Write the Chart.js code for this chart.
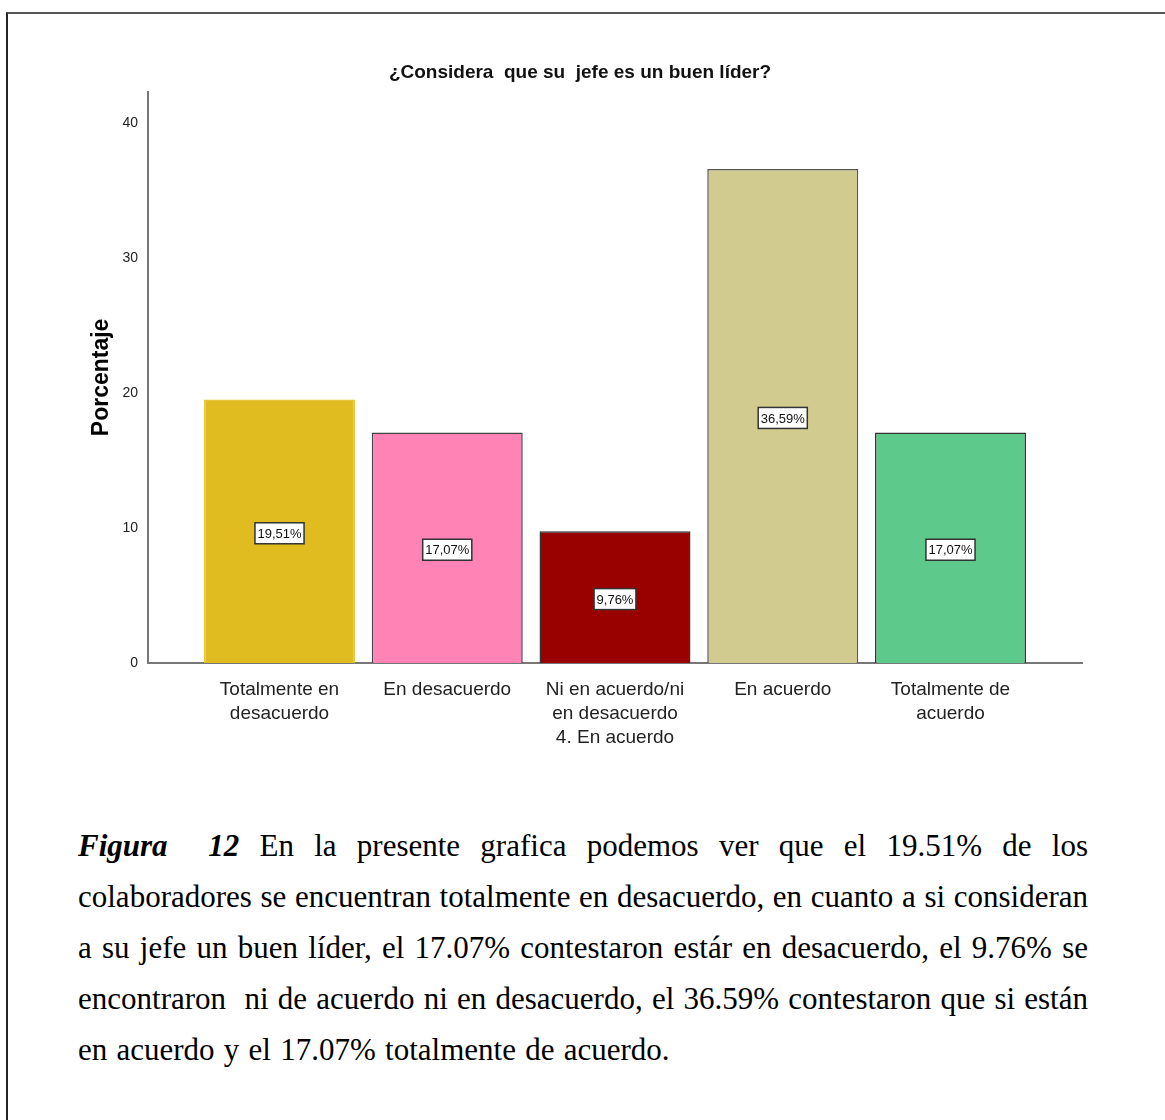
<!DOCTYPE html>
<html>
<head>
<meta charset="utf-8">
<script src="https://cdn.jsdelivr.net/npm/chart.js@4/dist/chart.umd.min.js"></script>
<style>
  body { margin: 0; background: #fff; }
  .page { position: relative; width: 1165px; height: 1120px; overflow: hidden; }
  .frame { position: absolute; left: 6px; top: 12px; width: 1170px; height: 1200px;
    border-top: 2px solid #555; border-left: 2px solid #222; }
  .chart-box { position: absolute; left: 0; top: 0; width: 1165px; height: 783px; }
  .caption { position: absolute; left: 78px; top: 820px; width: 1010px;
    font-family: "Liberation Serif", "Times New Roman", serif; font-size: 31px;
    line-height: 51px; color: #000; }
  .caption div { text-align: justify; text-align-last: justify; white-space: pre; }
  .caption div.last { text-align-last: left; word-spacing: 1.5px; }
</style>
</head>
<body>
<div class="page">
  <div class="frame"></div>
  <div class="chart-box"><canvas id="bar-chart"></canvas></div>
  <div class="caption">
    <div><b><i>Figura</i></b>  <b><i>12</i></b> En la presente grafica podemos ver que el 19.51% de los</div>
    <div>colaboradores se encuentran totalmente en desacuerdo, en cuanto a si consideran</div>
    <div>a su jefe un buen líder, el 17.07% contestaron estár en desacuerdo, el 9.76% se</div>
    <div>encontraron  ni de acuerdo ni en desacuerdo, el 36.59% contestaron que si están</div>
    <div class="last">en acuerdo y el 17.07% totalmente de acuerdo.</div>
  </div>
</div>
<script>
const chartTitle = "¿Considera  que su  jefe es un buen líder?";
const categories = [
  ["Totalmente en", "desacuerdo"],
  ["En desacuerdo"],
  ["Ni en acuerdo/ni", "en desacuerdo", "4. En acuerdo"],
  ["En acuerdo"],
  ["Totalmente de", "acuerdo"]
];
const percentages = [19.51, 17.07, 9.76, 36.59, 17.07];
const barColors = ["#E1BC20", "#FF84B5", "#990000", "#D1CB8F", "#5DCA8B"];
const barBorders = ["#E6C53C", "#444444", "#333333", "#555555", "#333333"];
const yTicks = [0, 10, 20, 30, 40];

const sansFont = "'Liberation Sans', Arial, sans-serif";

function formatPercent(value) {
  return `${value.toFixed(2).replace(".", ",")}%`;
}

const valueBoxes = {
  id: "valueBoxes",
  afterDatasetsDraw(chart) {
    const ctx = chart.ctx;
    const meta = chart.getDatasetMeta(0);
    ctx.save();
    ctx.font = `13px ${sansFont}`;
    ctx.textAlign = "center";
    ctx.textBaseline = "middle";
    meta.data.forEach((bar, i) => {
      const text = formatPercent(percentages[i]);
      const cx = bar.x;
      const cy = (bar.y + bar.base) / 2 + 2;
      const w = ctx.measureText(text).width + 5;
      const h = 21;
      ctx.fillStyle = "#ffffff";
      ctx.fillRect(cx - w / 2, cy - h / 2, w, h);
      ctx.strokeStyle = "#333333";
      ctx.lineWidth = 1.5;
      ctx.strokeRect(cx - w / 2, cy - h / 2, w, h);
      ctx.fillStyle = "#111111";
      ctx.fillText(text, cx, cy + 1);
    });
    ctx.restore();
  }
};

new Chart(document.getElementById("bar-chart"), {
  type: "bar",
  data: {
    datasets: [
      {
        data: percentages.map((value, i) => ({ x: i, y: value })),
        backgroundColor: barColors,
        borderColor: barBorders,
        borderWidth: 1.5,
        categoryPercentage: 1,
        barPercentage: 0.9
      }
    ]
  },
  options: {
    responsive: true,
    maintainAspectRatio: false,
    animation: false,
    layout: { padding: { left: 78, right: 83, top: 0, bottom: 0 } },
    plugins: {
      legend: { display: false },
      tooltip: { enabled: false },
      title: {
        display: true,
        text: chartTitle,
        color: "#111",
        font: { family: sansFont, size: 19, weight: "bold" },
        padding: { top: 61, bottom: 8 }
      }
    },
    scales: {
      x: {
        type: "linear",
        offset: false,
        min: -0.784,
        max: 4.784,
        grid: { display: false, drawTicks: false, offset: false },
        border: { display: true, color: "#777", width: 2 },
        afterBuildTicks: (scale) => {
          scale.ticks = categories.map((_, i) => ({ value: i }));
        },
        afterFit: (scale) => { scale.height = 120; },
        ticks: {
          autoSkip: false,
          maxRotation: 0,
          padding: 15,
          color: "#222",
          font: { family: sansFont, size: 19, lineHeight: 1.26 },
          callback: (value) => categories[value]
        }
      },
      y: {
        min: 0,
        max: 42.3,
        grid: { display: false, drawTicks: false },
        border: { display: true, color: "#777", width: 2 },
        afterBuildTicks: (scale) => {
          scale.ticks = yTicks.map((v) => ({ value: v }));
        },
        afterFit: (scale) => { scale.width = 70; },
        ticks: {
          padding: 10,
          color: "#222",
          font: { family: sansFont, size: 14 }
        },
        title: {
          display: true,
          text: "Porcentaje",
          color: "#000",
          font: { family: sansFont, size: 23, weight: "bold" },
          padding: { top: 10, bottom: 0 }
        }
      }
    }
  },
  plugins: [valueBoxes]
});
</script>
</body>
</html>
